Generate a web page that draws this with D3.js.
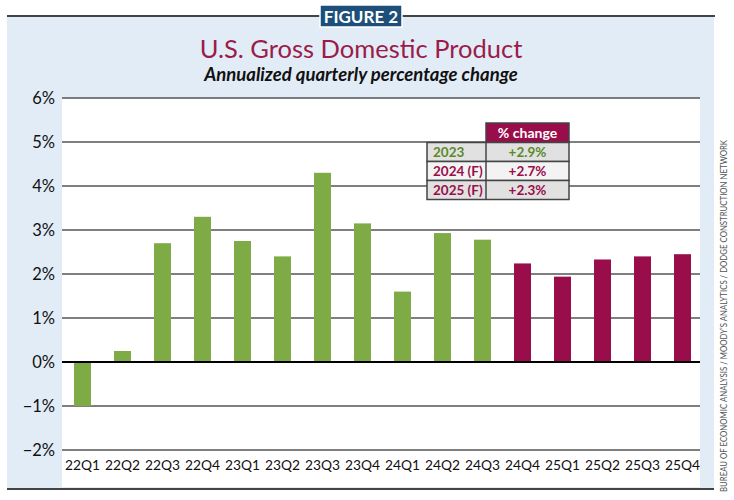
<!DOCTYPE html>
<html lang="en">
  <head>
    <meta charset="UTF-8">
    <title>U.S. Gross Domestic Product</title>
    <style>
body{
    margin: 0;
    background: #fff;
}
svg{
    display: block;
    font-family: Lato, "Open Sans", sans-serif;
}
    </style>
  </head>
  <body>
    <script src="https://cdn.jsdelivr.net/npm/d3@7/dist/d3.min.js" charset="UTF-8"></script>
    <script>
// quarters and annualized % change
var quarters = ["22Q1", "22Q2", "22Q3", "22Q4", "23Q1", "23Q2", "23Q3", "23Q4",
                "24Q1", "24Q2", "24Q3", "24Q4", "25Q1", "25Q2", "25Q3", "25Q4"];
var gdpChange = [-1.0, 0.25, 2.7, 3.3, 2.75, 2.4, 4.3, 3.15,
                 1.6, 2.93, 2.78, 2.24, 1.94, 2.33, 2.4, 2.45];
// first quarter that is a forecast
var firstForecast = "24Q4";
var yTicks = [-2, -1, 0, 1, 2, 3, 4, 5, 6];

// little table of yearly change
var tableYears = ["2023", "2024 (F)", "2025 (F)"];
var tableValues = ["+2.9%", "+2.7%", "+2.3%"];
var tableIsForecast = [false, true, true];

var width = 734, height = 500;
var green = "#7eab46", maroon = "#990d4a", greenText = "#5a8a2a";
var plot = {left: 62, right: 700, top: 98, bottom: 450};

var svg = d3.select("body").append("svg")
    .attr("width", width)
    .attr("height", height);

// frame: blue panel with rules top and bottom
svg.append("rect")
    .attr("x", 7).attr("y", 17)
    .attr("width", 707).attr("height", 471)
    .attr("fill", "#e1ecf7");
svg.append("rect")
    .attr("x", plot.left).attr("y", plot.top)
    .attr("width", plot.right - plot.left).attr("height", 389)
    .attr("fill", "#fff");
svg.append("line")
    .attr("x1", 7).attr("x2", 715).attr("y1", 16).attr("y2", 16)
    .attr("stroke", "#444").attr("stroke-width", 2);
svg.append("line")
    .attr("x1", 7).attr("x2", 714).attr("y1", 489).attr("y2", 489)
    .attr("stroke", "#444").attr("stroke-width", 2);

// badge
svg.append("rect")
    .attr("x", 320).attr("y", 5)
    .attr("width", 82).attr("height", 22)
    .attr("fill", "#1e4f7a")
    .attr("stroke", "#fff").attr("stroke-width", 1.5);
svg.append("text")
    .attr("x", 361).attr("y", 22.5)
    .attr("text-anchor", "middle")
    .attr("fill", "#fff")
    .attr("font-size", 17).attr("font-weight", 700)
    .text("FIGURE 2");

svg.append("text")
    .attr("x", 361).attr("y", 57.5)
    .attr("text-anchor", "middle")
    .attr("fill", "#9b1b4a")
    .attr("font-size", 25.5)
    .text("U.S. Gross Domestic Product");
svg.append("text")
    .attr("x", 361).attr("y", 81)
    .attr("text-anchor", "middle")
    .attr("fill", "#111")
    .attr("font-size", 18.5).attr("font-style", "italic").attr("font-weight", 700)
    .text("Annualized quarterly percentage change");

// scales
var x = d3.scaleBand()
    .domain(quarters)
    .range([62.5, 702.5])
    .paddingInner(0.575)
    .paddingOuter(0.2875);
var y = d3.scaleLinear()
    .domain([-2, 6])
    .range([plot.bottom, plot.top]);

// grid
svg.append("g").selectAll("line")
    .data(yTicks.filter(function(d){ return d != 0; }))
    .enter().append("line")
    .attr("x1", plot.left).attr("x2", plot.right)
    .attr("y1", function(d){ return y(d); })
    .attr("y2", function(d){ return y(d); })
    .attr("stroke", "#555").attr("stroke-width", 1.4);

// y labels
var yAxis = svg.append("g")
    .attr("transform", "translate(" + (plot.left - 7) + ",0)")
    .call(d3.axisLeft(y).tickValues(yTicks).tickSize(0).tickPadding(0)
        .tickFormat(function(d){ return (d < 0 ? "\u2212" : "") + Math.abs(d) + "%"; }));
yAxis.select(".domain").remove();
yAxis.selectAll("text")
    .attr("font-family", "Lato, sans-serif")
    .attr("font-size", 16.5)
    .attr("fill", "#111");

// bars
svg.append("g").selectAll("rect")
    .data(quarters)
    .enter().append("rect")
    .attr("x", function(d){ return x(d); })
    .attr("width", x.bandwidth())
    .attr("y", function(d, i){ return y(Math.max(0, gdpChange[i])); })
    .attr("height", function(d, i){ return Math.abs(y(gdpChange[i]) - y(0)); })
    .attr("fill", function(d){ return quarters.indexOf(d) >= quarters.indexOf(firstForecast) ? maroon : green; });

// zero line
svg.append("line")
    .attr("x1", plot.left).attr("x2", plot.right)
    .attr("y1", y(0)).attr("y2", y(0))
    .attr("stroke", "#000").attr("stroke-width", 2);

// x labels
var xAxis = svg.append("g")
    .attr("transform", "translate(0," + (plot.bottom + 10) + ")")
    .call(d3.axisBottom(x).tickSize(0).tickPadding(0));
xAxis.select(".domain").remove();
xAxis.selectAll("text")
    .attr("font-family", "Lato, sans-serif")
    .attr("font-size", 13.8)
    .attr("fill", "#111");

// table
var tbl = {x0: 427, x1: 486, x2: 569, top: 123, head: 19.5, row: 19};
var tg = svg.append("g");
tg.append("rect")
    .attr("x", tbl.x1).attr("y", tbl.top)
    .attr("width", tbl.x2 - tbl.x1).attr("height", tbl.head)
    .attr("fill", maroon).attr("stroke", "#444").attr("stroke-width", 1.5);
tg.append("text")
    .attr("x", (tbl.x1 + tbl.x2) / 2).attr("y", tbl.top + 14.5)
    .attr("text-anchor", "middle")
    .attr("fill", "#fff").attr("font-size", 14).attr("font-weight", 700)
    .text("% change");
var rows = tg.selectAll("g.row")
    .data(tableYears)
    .enter().append("g")
    .attr("class", "row")
    .attr("transform", function(d, i){ return "translate(0," + (tbl.top + tbl.head + i * tbl.row) + ")"; });
rows.append("rect")
    .attr("x", tbl.x0).attr("width", tbl.x2 - tbl.x0).attr("height", tbl.row)
    .attr("fill", function(d, i){ return i == 1 ? "#f3f3f3" : "#e1e1e1"; })
    .attr("stroke", "#444").attr("stroke-width", 1.5);
rows.append("line")
    .attr("x1", tbl.x1).attr("x2", tbl.x1).attr("y1", 0).attr("y2", tbl.row)
    .attr("stroke", "#444").attr("stroke-width", 1.5);
rows.append("text")
    .attr("x", tbl.x0 + 6).attr("y", 14)
    .attr("fill", function(d, i){ return tableIsForecast[i] ? maroon : greenText; })
    .attr("font-size", 13.5).attr("font-weight", 700)
    .text(function(d){ return d; });
rows.append("text")
    .attr("x", (tbl.x1 + tbl.x2) / 2).attr("y", 14)
    .attr("text-anchor", "middle")
    .attr("fill", function(d, i){ return tableIsForecast[i] ? maroon : greenText; })
    .attr("font-size", 13.5).attr("font-weight", 700)
    .text(function(d, i){ return tableValues[i]; });

// source, running up the right edge
svg.append("text")
    .attr("transform", "translate(727,492) rotate(-90)")
    .attr("fill", "#555")
    .attr("font-size", 9.5)
    .attr("textLength", 352).attr("lengthAdjust", "spacingAndGlyphs")
    .text("BUREAU OF ECONOMIC ANALYSIS / MOODY\u2019S ANALYTICS / DODGE CONSTRUCTION NETWORK");
    </script>
  </body>
</html>
